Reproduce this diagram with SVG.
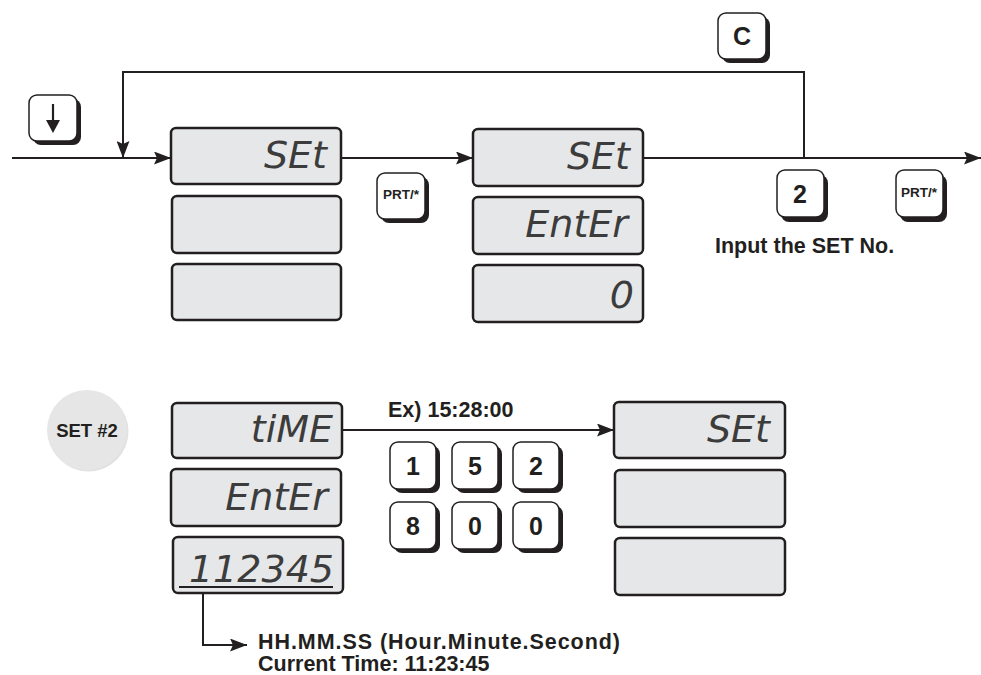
<svg xmlns="http://www.w3.org/2000/svg" width="981" height="675" viewBox="0 0 981 675">
<style>
.disp{fill:#e6e7e8;stroke:#231f20;stroke-width:2.5}
.seg{font-family:"DejaVu Sans",sans-serif;font-style:italic;font-size:38px;fill:#3c3c3c;text-anchor:end}
.kb{fill:#fff;stroke:#231f20;stroke-width:1.5}
.ks{fill:#231f20}
.kt{font-family:"Liberation Sans",Arial,sans-serif;font-weight:bold;fill:#231f20;text-anchor:middle}
.lbl{font-family:"Liberation Sans",Arial,sans-serif;font-weight:bold;font-size:21.5px;fill:#231f20}
.ln{fill:none;stroke:#231f20;stroke-width:2}
</style>
<defs>
<marker id="ah" viewBox="0 0 17 13" refX="17" refY="6.5" markerWidth="17" markerHeight="13" markerUnits="userSpaceOnUse" orient="auto">
<path d="M0,0 L17,6.5 L0,13 L3,6.5 Z" fill="#231f20"/>
</marker>
</defs>

<g id="connectors">
<path class="ln" d="M12,158 H171" marker-end="url(#ah)"/>
<path class="ln" d="M804,158 V72 H123 V158" marker-end="url(#ah)"/>
<path class="ln" d="M341,158 H473" marker-end="url(#ah)"/>
<path class="ln" d="M643,158 H981" marker-end="url(#ah)"/>
<path class="ln" d="M342,430 H614" marker-end="url(#ah)"/>
<path class="ln" d="M203,587 V645 H247" marker-end="url(#ah)"/>
</g>

<g id="key-down">
<rect class="ks" x="33" y="99" width="48" height="46" rx="8"/>
<rect class="kb" x="29" y="95" width="48" height="46" rx="8"/>
<path d="M53,104 V122" stroke="#231f20" stroke-width="2.2"/>
<path d="M46,120 L60,120 L53,133 Z" fill="#231f20"/>
</g>

<g id="disp1">
<rect class="disp" x="171" y="128" width="170" height="56" rx="5"/>
<text class="seg" x="327" y="168">SEt</text>
<rect class="disp" x="172" y="196" width="169" height="57" rx="5"/>
<rect class="disp" x="172" y="264" width="169" height="56" rx="5"/>
</g>

<g id="key-prt1">
<rect class="ks" x="381" y="177" width="48" height="46" rx="8"/>
<rect class="kb" x="377" y="173" width="48" height="46" rx="8"/>
<text class="kt" x="401" y="199" font-size="13.5">PRT/*</text>
</g>

<g id="disp2">
<rect class="disp" x="473" y="129" width="170" height="57" rx="5"/>
<text class="seg" x="630" y="169">SEt</text>
<rect class="disp" x="473" y="197" width="170" height="57" rx="5"/>
<text class="seg" x="628" y="237">EntEr</text>
<rect class="disp" x="473" y="265" width="170" height="57" rx="5"/>
<text class="seg" x="634" y="308">0</text>
</g>

<g id="key-c">
<rect class="ks" x="722" y="17" width="48" height="46" rx="8"/>
<rect class="kb" x="718" y="13" width="48" height="46" rx="8"/>
<text class="kt" x="742" y="45" font-size="25">C</text>
</g>

<g id="key-2">
<rect class="ks" x="781" y="175" width="47" height="47" rx="8"/>
<rect class="kb" x="777" y="170" width="47" height="47" rx="8"/>
<text class="kt" x="800" y="203" font-size="25">2</text>
</g>

<g id="key-prt2">
<rect class="ks" x="900" y="175" width="47" height="47" rx="8"/>
<rect class="kb" x="896" y="170" width="47" height="47" rx="8"/>
<text class="kt" x="919" y="197" font-size="13.5">PRT/*</text>
</g>

<g id="label-input">
<text class="lbl" x="715" y="253">Input the SET No.</text>
</g>

<g id="set2">
<circle cx="88.5" cy="431.5" r="40" fill="#cfcfcf" opacity="0.6"/>
<circle cx="87" cy="430" r="40" fill="#e6e6e6"/>
<text class="kt" x="87" y="437" font-size="18.5">SET #2</text>
</g>

<g id="disp3">
<rect class="disp" x="172" y="403" width="170" height="55" rx="5"/>
<text class="seg" x="333" y="442">tiME</text>
<rect class="disp" x="171" y="469" width="170" height="57" rx="5"/>
<text class="seg" x="328" y="510">EntEr</text>
<rect class="disp" x="173" y="537" width="170" height="56" rx="5"/>
<text class="seg" x="334" y="582">112345</text>
<path d="M179,587 H333" stroke="#231f20" stroke-width="2"/>
</g>

<g id="label-ex">
<text class="lbl" x="388" y="417">Ex) 15:28:00</text>
</g>

<g id="keys-time">
<rect class="ks" x="394" y="446" width="46" height="47" rx="8"/>
<rect class="kb" x="390" y="442" width="46" height="47" rx="8"/>
<text class="kt" x="413" y="475" font-size="25">1</text>
<rect class="ks" x="456" y="446" width="46" height="47" rx="8"/>
<rect class="kb" x="452" y="442" width="46" height="47" rx="8"/>
<text class="kt" x="475" y="475" font-size="25">5</text>
<rect class="ks" x="517" y="446" width="46" height="47" rx="8"/>
<rect class="kb" x="513" y="442" width="46" height="47" rx="8"/>
<text class="kt" x="536" y="475" font-size="25">2</text>
<rect class="ks" x="394" y="506" width="46" height="47" rx="8"/>
<rect class="kb" x="390" y="502" width="46" height="47" rx="8"/>
<text class="kt" x="413" y="535" font-size="25">8</text>
<rect class="ks" x="456" y="506" width="46" height="47" rx="8"/>
<rect class="kb" x="452" y="502" width="46" height="47" rx="8"/>
<text class="kt" x="475" y="535" font-size="25">0</text>
<rect class="ks" x="517" y="506" width="46" height="47" rx="8"/>
<rect class="kb" x="513" y="502" width="46" height="47" rx="8"/>
<text class="kt" x="536" y="535" font-size="25">0</text>
</g>

<g id="disp4">
<rect class="disp" x="614" y="402" width="171" height="56" rx="5"/>
<text class="seg" x="770" y="442">SEt</text>
<rect class="disp" x="615" y="470" width="170" height="57" rx="5"/>
<rect class="disp" x="615" y="538" width="170" height="57" rx="5"/>
</g>

<g id="label-time">
<text class="lbl" x="258" y="649" font-size="23" textLength="362" lengthAdjust="spacing">HH.MM.SS (Hour.Minute.Second)</text>
<text class="lbl" x="258" y="671" font-size="23">Current Time: 11:23:45</text>
</g>
</svg>
